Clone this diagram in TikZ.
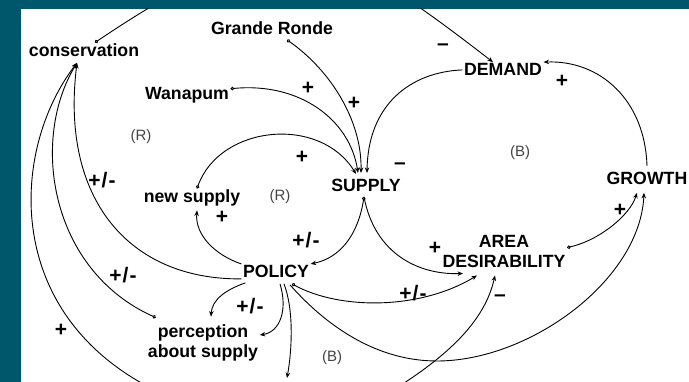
\documentclass[tikz,border=0pt]{standalone}
\usepackage{fontspec}
\setmainfont{Liberation Sans}
\usetikzlibrary{arrows.meta}
\definecolor{frameteal}{HTML}{00566A}
\definecolor{loopgray}{HTML}{444444}

\begin{document}
\begin{tikzpicture}[x=1pt, y=-1pt,
        var/.style={anchor=base, inner sep=1.5pt, font=\fontsize{17.7}{20}\selectfont\bfseries},
        vartwo/.style={var, anchor=center, align=center},
        sgn/.style={inner sep=0pt, font=\fontsize{21}{21}\selectfont\bfseries},
        looplabel/.style={inner sep=0pt, font=\fontsize{15}{15}\selectfont, text=loopgray},
        arrow/.style={line width=0.9pt, -{Stealth[length=5.5pt, width=4.5pt]}},
        tailarrow/.style={arrow, {Circle[open, length=3.5pt]}-{Stealth[length=5.5pt, width=4.5pt]}}
    ]
    \useasboundingbox (0,0) rectangle (689,382);
    \fill [frameteal] (0,0) rectangle (689,382);
    \fill [white] (21,9) rectangle (689,382);

    \begin{scope}
    \clip (21,9) rectangle (689,382);

    \node (cons) [var] at (84,57) {conservation};
    \node (gronde) [var] at (272,35) {Grande Ronde};
    \node (wanapum) [var] at (187,100) {Wanapum};
    \node (newsup) [var] at (192,203) {new supply};
    \node (supply) [var] at (366,192) {SUPPLY};
    \node (demand) [var] at (503,76) {DEMAND};
    \node (growth) [var] at (647,185) {GROWTH};
    \node (area) [vartwo] at (504,251.6) {AREA\\DESIRABILITY};
    \node (policy) [var] at (276,278) {POLICY};
    \node (percep) [vartwo] at (203,342.5) {perception\\about supply};

    \node (loopra) [looplabel] at (141,137) {(R)};
    \node (looprb) [looplabel] at (280,197) {(R)};
    \node (loopba) [looplabel] at (520,153) {(B)};
    \node (loopbb) [looplabel] at (332,358) {(B)};

    \node (sgwana) [sgn] at (308,88) {+};
    \node (sggronde) [sgn] at (354,103) {+};
    \node (sgcons) [sgn] at (443,47) {–};
    \node (sggrowth) [sgn] at (562,81) {+};
    \node (sgnew) [sgn] at (302,157) {+};
    \node (sgdemand) [sgn] at (400,166) {–};
    \node (sgareag) [sgn] at (620,210) {+};
    \node (sgsupa) [sgn] at (435,248) {+};
    \node (sgoffr) [sgn] at (500,298) {–};
    \node (sgpola) [sgn] at (413,293) {+\kern1pt/\kern1pt-};
    \node (sgsupp) [sgn] at (306,240) {+\kern1pt/\kern1pt-};
    \node (sgpoln) [sgn] at (222,217) {+};
    \node (sgpolp) [sgn] at (250,306) {+\kern1pt/\kern1pt-};
    \node (sgperc) [sgn] at (123,275) {+\kern1pt/\kern1pt-};
    \node (sgoffl) [sgn] at (61,330) {+};
    \node (sgpolc) [sgn] at (102,180) {+\kern1pt/\kern1pt-};

    \coordinate (offl) at (165,395);
    \coordinate (offp) at (287,378);
    \coordinate (offr) at (390,392);
    \coordinate (dip) at (437,361);

    \draw [tailarrow] ([xshift=11pt]cons.north) .. controls (287,-86) and (328,-65) .. ([xshift=-10pt]demand.north);
    \draw [tailarrow] ([xshift=15pt,yshift=-3pt]gronde.south) .. controls (330,70) and (362,120) .. ([xshift=-5pt,yshift=5pt]supply.north);
    \draw [tailarrow] ([yshift=7pt]wanapum.east) .. controls (300,82) and (350,120) .. ([xshift=-8pt,yshift=5pt]supply.north);
    \draw [tailarrow] ([xshift=5pt]newsup.north) .. controls (220,125) and (320,115) .. ([xshift=-10pt,yshift=4pt]supply.north);
    \draw [arrow] (demand.west) .. controls (410,72) and (368,105) .. ([xshift=1pt,yshift=5pt]supply.north);
    \draw [arrow] ([yshift=5pt]growth.north) .. controls (645,100) and (600,60) .. (demand.north east);

    \draw [tailarrow] ([xshift=-2pt,yshift=-3pt]supply.south) .. controls (358,235) and (340,258) .. (policy.north east);
    \draw [arrow] ([xshift=-2pt,yshift=-3pt]supply.south) .. controls (375,255) and (420,275) .. ([xshift=-41pt,yshift=-4pt]area.south);
    \draw [tailarrow] ([yshift=4pt]area.east) .. controls (600,240) and (630,215) .. ([xshift=-10pt,yshift=-6pt]growth.south);
    \draw [arrow] (offr) .. controls (450,355) and (485,320) .. ([xshift=-9pt,yshift=-6pt]area.south);

    \draw [arrow] (policy.north west) .. controls (215,255) and (195,235) .. ([xshift=5pt,yshift=-2pt]newsup.south);
    \draw [arrow] ([yshift=1pt]policy.south west) .. controls (130,280) and (60,200) .. ([xshift=-7pt,yshift=-4pt]cons.south);
    \draw [tailarrow] ([xshift=9.5pt,yshift=5pt]percep.north west) .. controls (50,270) and (30,140) .. ([xshift=-7pt,yshift=-4pt]cons.south);
    \draw [arrow] (offl) .. controls (0,320) and (10,150) .. ([xshift=-7pt,yshift=-4pt]cons.south);

    \draw [arrow] ([xshift=4pt,yshift=-3pt]policy.south west) .. controls (225,290) and (212,300) .. ([xshift=8pt,yshift=6pt]percep.north);
    \draw [arrow] ([xshift=4pt,yshift=-4pt]policy.south) .. controls (288,310) and (280,332) .. ([yshift=7.5pt]percep.east);
    \draw [arrow] ([xshift=8pt,yshift=-4pt]policy.south) .. controls (294,310) and (292,350) .. (offp);
    \draw [tailarrow] ([xshift=16pt,yshift=-4pt]policy.south) .. controls (340,310) and (420,310) .. ([xshift=-27pt,yshift=-6pt]area.south);
    \draw [arrow] ([xshift=14pt,yshift=-5pt]policy.south) .. controls (330,330) and (380,361) .. (dip) .. controls (530,361) and (640,280) .. ([xshift=-3pt,yshift=-6pt]growth.south);
    \end{scope}
\end{tikzpicture}
\end{document}
